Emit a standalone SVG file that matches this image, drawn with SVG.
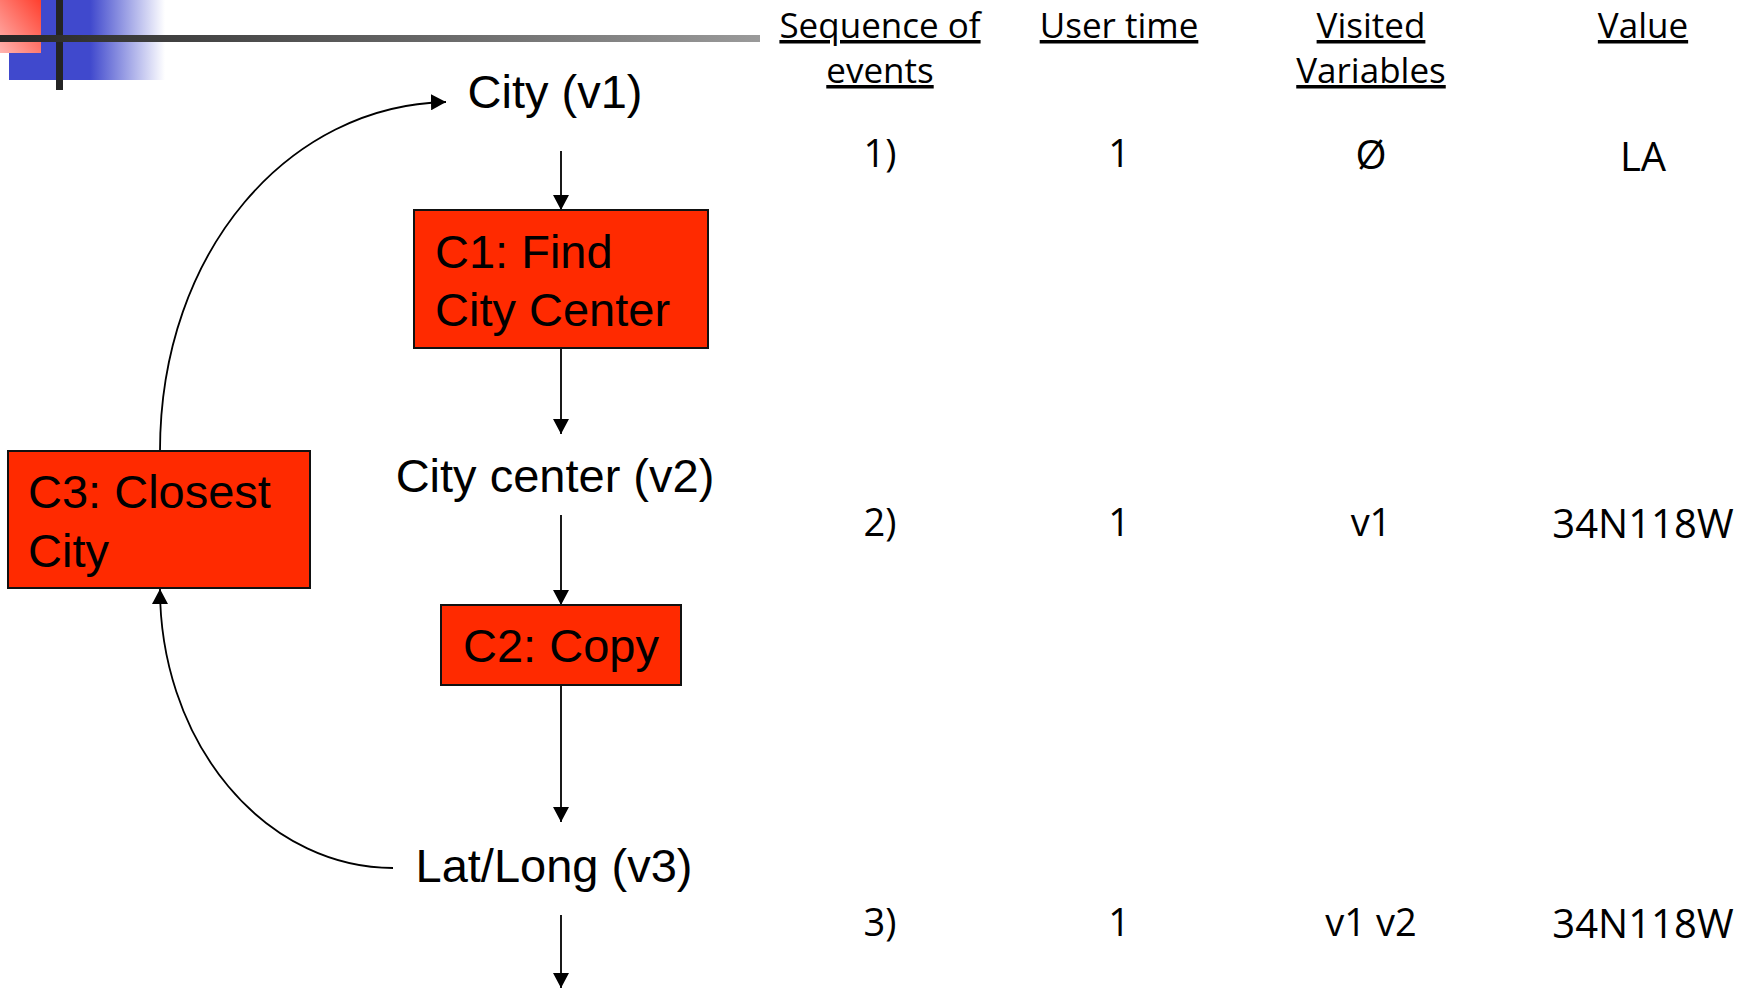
<svg xmlns="http://www.w3.org/2000/svg" width="1754" height="994" viewBox="0 0 1754 994">
<style>
.lbl{font-family:"Liberation Sans",Arial,sans-serif;font-size:47px;fill:#000}
.box{fill:#FF2A00;stroke:#111;stroke-width:2}
.hdr{font-family:"Open Sans","DejaVu Sans",sans-serif;font-size:35px;fill:#000;text-anchor:middle;text-decoration:underline}
.cell{font-family:"Open Sans","DejaVu Sans",sans-serif;font-size:38px;fill:#000;text-anchor:middle}
.val{font-family:"Open Sans","DejaVu Sans",sans-serif;font-size:40px;fill:#000;text-anchor:middle}
.conn{fill:none;stroke:#000;stroke-width:1.8;marker-end:url(#ah)}
</style>
<defs>
<marker id="ah" markerUnits="userSpaceOnUse" markerWidth="16" markerHeight="16" refX="15" refY="8" orient="auto">
<path d="M0,0 L15,8 L0,16 z" fill="#000"/>
</marker>
<linearGradient id="gBlue" x1="0" y1="0" x2="1" y2="0">
<stop offset="0" stop-color="#4049CD"/>
<stop offset="0.52" stop-color="#4049CD"/>
<stop offset="1" stop-color="#FFFFFF"/>
</linearGradient>
<linearGradient id="gRed" x1="1" y1="0" x2="0" y2="1">
<stop offset="0" stop-color="#FF3F2E"/>
<stop offset="1" stop-color="#FFB4B0"/>
</linearGradient>
<linearGradient id="gBar" x1="0" y1="0" x2="1" y2="0">
<stop offset="0" stop-color="#262626"/>
<stop offset="1" stop-color="#9A9A9A"/>
</linearGradient>
</defs>

<g id="decor">
<rect x="9" y="0" width="156" height="80" fill="url(#gBlue)"/>
<rect x="0" y="0" width="41" height="53" fill="url(#gRed)"/>
<rect x="56" y="0" width="7" height="90" fill="#242424"/>
<rect x="0" y="35" width="760" height="7" fill="url(#gBar)"/>
</g>

<g id="connectors">
<line class="conn" x1="561" y1="151" x2="561" y2="210"/>
<line class="conn" x1="561" y1="348" x2="561" y2="434"/>
<line class="conn" x1="561" y1="515" x2="561" y2="605"/>
<line class="conn" x1="561" y1="685" x2="561" y2="822"/>
<line class="conn" x1="561" y1="915" x2="561" y2="988"/>
<path class="conn" d="M393,868 A233,279 0 0 1 160,589"/>
<path class="conn" d="M160,451 C160,250 290,105 446,102"/>
</g>

<g id="v1"><text class="lbl" x="555" y="108" text-anchor="middle">City (v1)</text></g>
<g id="c1">
<rect class="box" x="414" y="210" width="294" height="138"/>
<text class="lbl" x="435" y="268">C1: Find</text>
<text class="lbl" x="435" y="326">City Center</text>
</g>
<g id="v2"><text class="lbl" x="555" y="492" text-anchor="middle">City center (v2)</text></g>
<g id="c2">
<rect class="box" x="441" y="605" width="240" height="80"/>
<text class="lbl" x="561" y="662" text-anchor="middle">C2: Copy</text>
</g>
<g id="v3"><text class="lbl" x="554" y="882" text-anchor="middle">Lat/Long (v3)</text></g>
<g id="c3">
<rect class="box" x="8" y="451" width="302" height="137"/>
<text class="lbl" x="28" y="508">C3: Closest</text>
<text class="lbl" x="28" y="567">City</text>
</g>

<g id="table">
<text class="hdr" x="880" y="38">Sequence of</text>
<text class="hdr" x="880" y="83">events</text>
<text class="hdr" x="1119" y="38">User time</text>
<text class="hdr" x="1371" y="38">Visited</text>
<text class="hdr" x="1371" y="83">Variables</text>
<text class="hdr" x="1643" y="38">Value</text>

<text class="cell" x="880" y="167">1)</text>
<text class="cell" x="1119" y="167">1</text>
<text class="val" x="1371" y="169">Ø</text>
<text class="val" x="1643" y="171">LA</text>

<text class="cell" x="880" y="536">2)</text>
<text class="cell" x="1119" y="536">1</text>
<text class="cell" x="1371" y="536">v1</text>
<text class="val" x="1643" y="538">34N118W</text>

<text class="cell" x="880" y="936">3)</text>
<text class="cell" x="1119" y="936">1</text>
<text class="cell" x="1371" y="936">v1 v2</text>
<text class="val" x="1643" y="938">34N118W</text>
</g>
</svg>
